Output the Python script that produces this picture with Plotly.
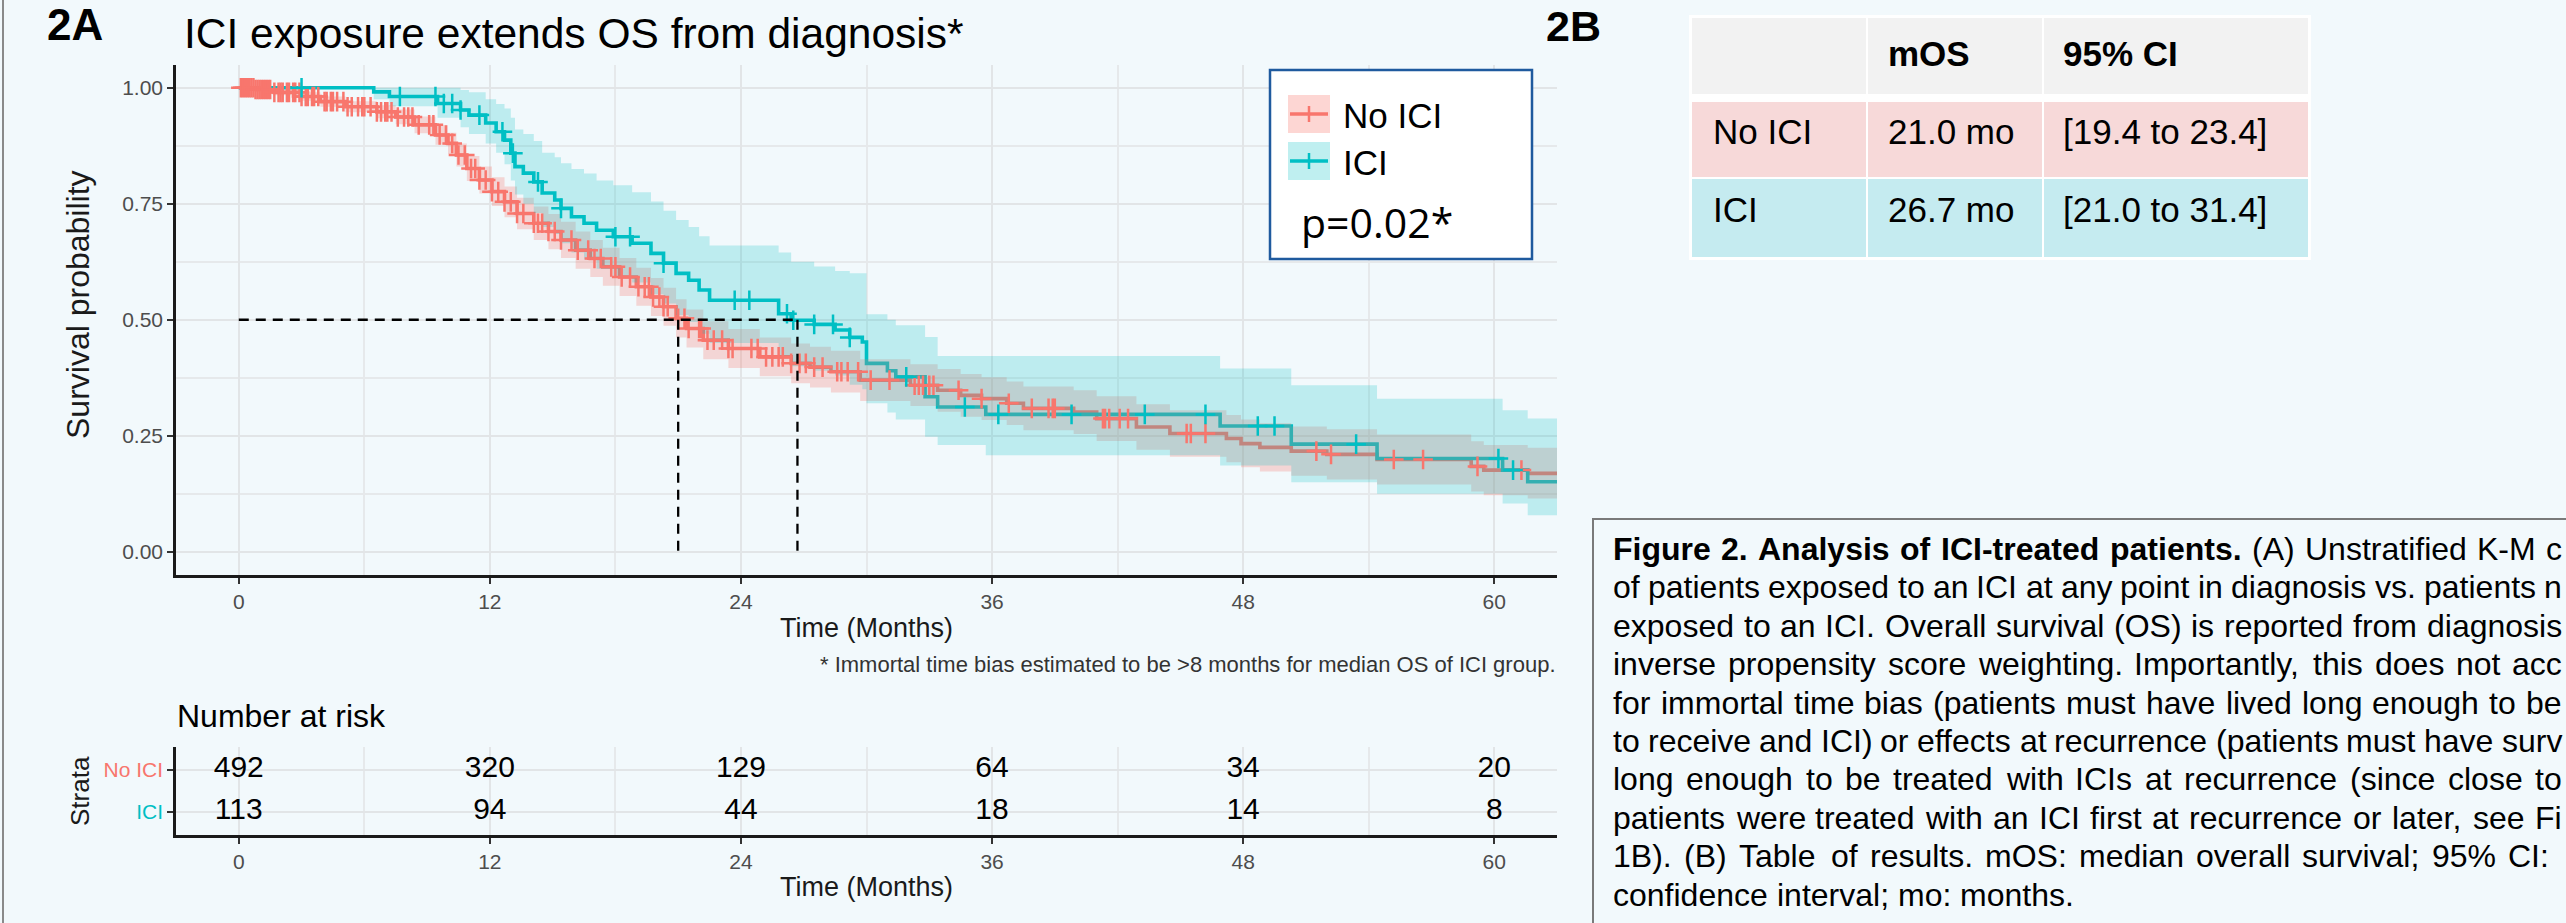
import plotly.graph_objects as go

W, H = 2566, 923

# ---------------- data ----------------
groups = ["No ICI", "ICI"]
colors = ["#F8766D", "#00BFC4"]

noici_t = [0, 0.8, 1.7, 3.0, 3.9, 5.1, 6.6, 7.5, 8.4, 9.4, 10.0, 10.4, 10.9, 11.5, 12.1, 12.7, 13.3,
           14.1, 14.8, 15.4, 16.1, 16.8, 17.4, 18.2, 19.0, 19.7, 20.3, 20.9, 21.4, 22.2, 23.4, 24.9,
           26.4, 27.3, 28.3, 29.7, 32.1, 33.4, 34.5, 35.5, 36.7, 37.5, 39.9, 41.0, 42.9, 44.5, 47.2,
           47.9, 48.8, 50.3, 52.0, 54.4, 58.9, 59.5, 61.6]
noici_s = [1.0, .996, .990, .981, .970, .959, .948, .937, .920, .898, .880, .855, .826, .801, .776, .754, .729,
           .708, .690, .672, .650, .632, .614, .592, .571, .549, .528, .503, .481, .456, .438, .420,
           .406, .398, .388, .370, .359, .348, .337, .330, .320, .309, .301, .287, .269, .255, .244,
           .233, .225, .217, .210, .199, .184, .176, .169]
noici_lo = [1.0, .991, .984, .972, .959, .947, .934, .921, .902, .877, .857, .830, .799, .772, .745, .721, .695,
            .672, .652, .633, .610, .592, .573, .551, .530, .508, .487, .462, .440, .415, .396, .378,
            .363, .354, .343, .325, .314, .302, .291, .284, .273, .262, .254, .239, .220, .205, .193,
            .182, .173, .164, .156, .145, .130, .122, .115]
noici_hi = [1.0, 1.0, .996, .990, .981, .971, .962, .953, .938, .919, .903, .880, .853, .830, .807, .787, .763,
            .744, .728, .711, .690, .672, .655, .633, .612, .590, .569, .544, .522, .497, .480, .462,
            .449, .442, .433, .415, .404, .394, .383, .376, .367, .356, .348, .335, .318, .305, .295,
            .285, .277, .270, .264, .253, .238, .230, .224]

ici_t = [0, 6.45, 7.2, 9.5, 10.6, 11.0, 11.8, 12.3, 12.7, 13.0, 13.2, 13.6, 14.1, 14.5, 15.1, 15.4, 15.9,
         16.5, 17.1, 17.9, 18.8, 19.7, 20.3, 20.9, 21.5, 22.0, 22.5, 25.8, 26.4, 27.5, 28.5, 29.2, 29.8,
         30.0, 31.0, 31.4, 32.8, 33.4, 35.7, 46.9, 50.3, 54.4, 60.4, 61.6]
ici_s = [1.0, .991, .981, .966, .952, .941, .924, .905, .887, .859, .830, .816, .797, .773, .758, .740, .722,
         .708, .693, .679, .665, .643, .622, .600, .585, .564, .542, .513, .499, .490, .478, .462, .452,
         .406, .390, .377, .334, .312, .296, .271, .232, .201, .176, .151]
ici_lo = [1.0, .975, .960, .935, .915, .900, .880, .860, .835, .800, .770, .750, .730, .700, .685, .665, .645,
          .630, .610, .595, .580, .555, .535, .510, .495, .470, .450, .420, .400, .390, .380, .360, .350,
          .320, .300, .285, .248, .230, .208, .186, .150, .125, .104, .079]
ici_hi = [1.0, 1.0, 1.0, 1.0, .995, .990, .975, .965, .955, .935, .910, .900, .885, .860, .850, .837, .825,
          .815, .800, .790, .775, .755, .735, .715, .700, .680, .660, .645, .625, .615, .605, .600, .600,
          .512, .500, .488, .463, .422, .422, .395, .359, .330, .305, .287]

noici_censor = [0.1, 0.2, 0.3, 0.4, 0.5, 0.6, 0.7, 0.8, 0.9, 1.0, 1.1, 1.2, 1.3, 1.4, 1.5, 1.7, 1.9, 2.0,
                2.1, 2.3, 2.4, 2.6, 2.7, 2.9, 3.0, 3.2, 3.3, 3.5, 3.6, 3.8, 4.1, 4.2, 4.4, 4.5, 4.7,
                5.0, 5.2, 5.4, 5.7, 5.9, 6.0, 6.3, 6.6, 6.8, 7.0, 7.1, 7.3, 7.6, 7.9, 8.1, 8.3, 8.6,
                9.1, 9.3, 9.6, 9.9, 10.2, 10.5, 10.8, 11.1, 11.3, 11.5, 11.8, 12.1, 12.4, 12.7, 13.0,
                13.3, 13.6, 14.1, 14.3, 14.5, 14.8, 15.1, 15.4, 15.9, 16.2, 16.7, 17.0, 17.3, 17.8,
                18.0, 18.3, 18.7, 19.1, 19.4, 19.6, 19.8, 20.1, 20.3, 20.5, 21.0, 21.3, 21.5, 22.0,
                22.1, 22.4, 22.7, 23.1, 23.4, 23.6, 24.5, 24.8, 25.2, 25.5, 25.8, 26.0, 26.4, 26.8,
                27.1, 27.5, 27.9, 28.6, 28.8, 29.1, 29.6, 30.2, 31.1, 32.3, 32.5, 32.7, 33.0, 33.2,
                34.4, 35.5, 36.8, 37.9, 38.7, 38.9, 39.0, 41.3, 41.4, 41.6, 42.1, 42.5, 45.3, 45.5,
                46.2, 51.5, 52.2, 55.2, 56.6, 59.2, 61.3]
ici_censor = [3.0, 7.7, 9.4, 9.8, 10.2, 10.6, 11.5, 12.6, 13.1, 14.3, 15.4, 18.0, 18.7, 20.3, 23.7, 24.4,
              26.2, 26.5, 27.5, 28.4, 29.2, 31.9, 34.7, 36.3, 39.8, 43.3, 46.2, 48.7, 49.5, 53.4, 60.2, 60.9]

median_os = [21.0, 26.7]

risk_times = [0, 12, 24, 36, 48, 60]
risk_noici = [492, 320, 129, 64, 34, 20]
risk_ici = [113, 94, 44, 18, 14, 8]

x_ticks = [0, 12, 24, 36, 48, 60]
x_minor = [6, 18, 30, 42, 54]
y_ticks = [0, 0.25, 0.5, 0.75, 1.0]
y_ticklabels = ["0.00", "0.25", "0.50", "0.75", "1.00"]
y_minor = [0.125, 0.375, 0.625, 0.875]

table_header = ["", "mOS", "95% CI"]
table_mos = ["21.0 mo", "26.7 mo"]
table_ci = ["[19.4 to 23.4]", "[21.0 to 31.4]"]
p_value = "p=0.02*"

# caption: visible part of each (justified) line; the first line starts in bold
caption_bold = "Figure 2. Analysis of ICI-treated patients."
caption_lines = [
    "Figure 2. Analysis of ICI-treated patients. (A) Unstratified K-M c",
    "of patients exposed to an ICI at any point in diagnosis vs. patients n",
    "exposed to an ICI. Overall survival (OS) is reported from diagnosis",
    "inverse propensity score weighting. Importantly, this does not acc",
    "for immortal time bias (patients must have lived long enough to be",
    "to receive and ICI) or effects at recurrence (patients must have surv",
    "long enough to be treated with ICIs at recurrence (since close to",
    "patients were treated with an ICI first at recurrence or later, see Fi",
    "1B). (B) Table of results. mOS: median overall survival; 95% CI:",
    "confidence interval; mo: months.",
]

# ---------------- styling ----------------
BG = "#f2f9fc"
FONT = "Liberation Sans, Arial, sans-serif"
T_END = 63
band_fill = ["rgba(248,118,109,0.27)", "rgba(0,191,196,0.22)"]
legend_fill = ["rgba(248,118,109,0.30)", "rgba(0,191,196,0.25)"]

# Arial / Liberation Sans advance widths (1/1000 em)
_REG = {' ': 278, '(': 333, ')': 333, ',': 278, '-': 333, '.': 278, ':': 278, ';': 278, '%': 889,
        '[': 278, ']': 278, '*': 389, '>': 584,
        'A': 667, 'B': 667, 'C': 722, 'D': 722, 'E': 667, 'F': 611, 'G': 778, 'H': 722, 'I': 278,
        'J': 500, 'K': 667, 'L': 556, 'M': 833, 'N': 722, 'O': 778, 'P': 667, 'Q': 778, 'R': 722,
        'S': 667, 'T': 611, 'U': 722, 'V': 667, 'W': 944, 'X': 667, 'Y': 667, 'Z': 611,
        'a': 556, 'b': 556, 'c': 500, 'd': 556, 'e': 556, 'f': 278, 'g': 556, 'h': 556, 'i': 222,
        'j': 222, 'k': 500, 'l': 222, 'm': 833, 'n': 556, 'o': 556, 'p': 556, 'q': 556, 'r': 333,
        's': 500, 't': 278, 'u': 556, 'v': 500, 'w': 722, 'x': 500, 'y': 500, 'z': 500}
for _d in "0123456789":
    _REG[_d] = 556
_BOLD = dict(_REG)
_BOLD.update({'A': 722, 'a': 556, 'd': 611, 'e': 556, 'f': 333, 'g': 611, 'i': 278, 'l': 278, 'n': 611,
              'o': 611, 'p': 611, 'r': 389, 's': 556, 't': 333, 'u': 611, 'y': 556})


def text_width(s, size, bold=False):
    tab = _BOLD if bold else _REG
    return sum(tab.get(ch, 556) for ch in s) * size / 1000.0


def X(px):
    return px / W


def Y(py):
    return 1 - py / H


def step_xy(t, s):
    xs, ys = [], []
    for i in range(len(t)):
        nxt = t[i + 1] if i + 1 < len(t) else T_END
        xs += [t[i], nxt]
        ys += [s[i], s[i]]
    return xs, ys


def surv_at(t, s, c):
    v = s[0]
    for ti, si in zip(t, s):
        if ti <= c:
            v = si
    return v


series = [
    (noici_t, noici_s, noici_lo, noici_hi, noici_censor),
    (ici_t, ici_s, ici_lo, ici_hi, ici_censor),
]

fig = go.Figure()

# lines first
for (t, s, lo, hi, cens), col, name in zip(series, colors, groups):
    fig.add_trace(go.Scatter(x=t + [T_END], y=s + [s[-1]], mode="lines", line_shape="hv",
                             line=dict(color=col, width=3.6), name=name, showlegend=False,
                             xaxis="x", yaxis="y", hoverinfo="skip"))
# confidence bands over the lines
for (t, s, lo, hi, cens), fc in zip(series, band_fill):
    ux, uy = step_xy(t, hi)
    lx, ly = step_xy(t, lo)
    fig.add_trace(go.Scatter(x=ux + lx[::-1], y=uy + ly[::-1], mode="lines", fill="toself",
                             fillcolor=fc, line=dict(width=0), showlegend=False,
                             xaxis="x", yaxis="y", hoverinfo="skip"))
# censor marks
for (t, s, lo, hi, cens), col in zip(series, colors):
    fig.add_trace(go.Scatter(x=cens, y=[surv_at(t, s, c) for c in cens], mode="markers",
                             marker=dict(symbol="cross-thin", size=14, line=dict(color=col, width=2.5)),
                             showlegend=False, xaxis="x", yaxis="y", hoverinfo="skip"))

# median lines
fig.add_trace(go.Scatter(x=[0, max(median_os)], y=[0.5, 0.5], mode="lines",
                         line=dict(color="black", width=2.3, dash="10px,7px"),
                         showlegend=False, xaxis="x", yaxis="y", hoverinfo="skip"))
for m in median_os:
    fig.add_trace(go.Scatter(x=[m, m], y=[0.5, 0], mode="lines",
                             line=dict(color="black", width=2.3, dash="10px,7px"),
                             showlegend=False, xaxis="x", yaxis="y", hoverinfo="skip"))

# risk table numbers
for vals, row in zip([risk_noici, risk_ici], [2, 1]):
    fig.add_trace(go.Scatter(x=risk_times, y=[row] * len(risk_times), mode="text",
                             text=[str(v) for v in vals],
                             textfont=dict(family=FONT, size=30, color="black"),
                             showlegend=False, xaxis="x2", yaxis="y2", hoverinfo="skip"))

axis_common = dict(showline=True, linecolor="#1a1a1a", linewidth=2.5, zeroline=False,
                   ticks="outside", ticklen=6, tickwidth=2, tickcolor="#333333",
                   showgrid=True, gridcolor="#e2e5e7", gridwidth=2)
tick_font = dict(family=FONT, size=21, color="#4d4d4d")
minor_x = dict(tickvals=x_minor, showgrid=True, gridcolor="#e6e9eb", gridwidth=1.5, ticks="")

fig.update_layout(
    width=W, height=H, autosize=False,
    margin=dict(l=0, r=0, t=0, b=0),
    paper_bgcolor=BG, plot_bgcolor=BG,
    font=dict(family=FONT, color="black"),
    showlegend=False,
    xaxis=dict(domain=[X(176), X(1557)], range=[-3, T_END], tickvals=x_ticks, anchor="y",
               minor=minor_x, tickfont=tick_font, **axis_common),
    yaxis=dict(domain=[Y(575), Y(64.5)], range=[-0.05, 1.05], tickvals=y_ticks, ticktext=y_ticklabels,
               anchor="x", tickfont=tick_font,
               minor=dict(tickvals=y_minor, showgrid=True, gridcolor="#e6e9eb", gridwidth=1.5, ticks=""),
               **axis_common),
    xaxis2=dict(domain=[X(176), X(1557)], range=[-3, T_END], tickvals=x_ticks, anchor="y2",
                minor=minor_x, tickfont=tick_font, **axis_common),
    yaxis2=dict(domain=[Y(835), Y(746.7)], range=[0.45, 2.55], tickvals=[2, 1],
                ticktext=[f'<span style="color:{colors[0]}">{groups[0]}</span>',
                          f'<span style="color:{colors[1]}">{groups[1]}</span>'],
                anchor="x2", tickfont=dict(family=FONT, size=21), **axis_common),
)

ann = []


def text(x, y, s, size, xanchor="left", yanchor="middle", color="black", family=FONT, angle=0):
    ann.append(dict(x=X(x), y=Y(y), xref="paper", yref="paper", text=s, showarrow=False,
                    xanchor=xanchor, yanchor=yanchor, textangle=angle, borderpad=0,
                    font=dict(size=size, color=color, family=family)))


text(46, 25, "<b>2A</b>", 44)
text(183, 33, "ICI exposure extends OS from diagnosis*", 42.5)
text(1545, 26, "<b>2B</b>", 43)
text(78, 305, "Survival probability", 32, xanchor="center", color="#1a1a1a", angle=-90)
text(866, 628, "Time (Months)", 27, xanchor="center", color="#1a1a1a")
text(1557, 664, "* Immortal time bias estimated to be >8 months for median OS of ICI group.", 22,
     xanchor="right", color="#333333")
text(176, 716, "Number at risk", 32)
text(80, 791, "Strata", 26, xanchor="center", color="#1a1a1a", angle=-90)
text(866, 887, "Time (Months)", 27, xanchor="center", color="#1a1a1a")

# legend box contents
text(1342, 115, groups[0], 35)
text(1342, 162, groups[1], 35)
text(1300, 222, p_value, 41, family="Open Sans, sans-serif")

# table text
col_x = [1712, 1887, 2062]
row_y = [53, 131, 210]
for cx, h in zip(col_x, table_header):
    if h:
        text(cx, row_y[0], f"<b>{h}</b>", 35)
for i in range(2):
    text(col_x[0], row_y[i + 1], groups[i], 35)
    text(col_x[1], row_y[i + 1], table_mos[i], 35)
    text(col_x[2], row_y[i + 1], table_ci[i], 35)

# caption, justified word by word
CAP_SIZE = 32
CAP_LEFT = 1612
n_bold_words = len(caption_bold.split())
for i, line in enumerate(caption_lines):
    words = line.split()
    bolds = [(i == 0 and k < n_bold_words) for k in range(len(words))]
    widths = [text_width(w, CAP_SIZE, b) for w, b in zip(words, bolds)]
    last = i == len(caption_lines) - 1
    right = 2548 if i == 8 else 2561
    if last or len(words) < 2:
        gap = text_width(" ", CAP_SIZE)
    else:
        gap = (right - CAP_LEFT - sum(widths)) / (len(words) - 1)
    xcur = CAP_LEFT
    for w, b, wd in zip(words, bolds, widths):
        text(xcur, 549 + 38.4 * i, f"<b>{w}</b>" if b else w, CAP_SIZE)
        xcur += wd + gap

fig.update_layout(annotations=ann)

shapes = []


def rect(x0, y0, x1, y1, fill):
    shapes.append(dict(type="rect", xref="paper", yref="paper", x0=X(x0), x1=X(x1), y0=Y(y1), y1=Y(y0),
                       fillcolor=fill, line=dict(width=0), layer="below"))


def seg(x0, y0, x1, y1, color, width):
    shapes.append(dict(type="line", xref="paper", yref="paper", x0=X(x0), x1=X(x1), y0=Y(y0), y1=Y(y1),
                       line=dict(color=color, width=width)))


# panel border (left) and caption box
seg(3, 0, 3, H, "#8a8a8a", 2)
shapes.append(dict(type="rect", xref="paper", yref="paper", x0=X(1593), x1=X(2620), y0=Y(960), y1=Y(519),
                   fillcolor="rgba(0,0,0,0)", line=dict(color="#7a7a7a", width=2)))

# legend box
shapes.append(dict(type="rect", xref="paper", yref="paper", x0=X(1270), x1=X(1532), y0=Y(259), y1=Y(70),
                   fillcolor="white", line=dict(color="#1f5a9e", width=2.5)))
for i, (col, fc) in enumerate(zip(colors, legend_fill)):
    cy = 114 + 47 * i
    shapes.append(dict(type="rect", xref="paper", yref="paper", x0=X(1288), x1=X(1330), y0=Y(cy + 19),
                       y1=Y(cy - 19), fillcolor=fc, line=dict(width=0)))
    seg(1290, cy, 1328, cy, col, 3.5)
    seg(1309, cy - 8, 1309, cy + 8, col, 2.5)

# table cells
rect(1689, 15, 2311, 260, "white")
hdr_fill, row_fill = "#f2f2f2", ["#f7d9d9", "#c5ebf0"]
cols = [(1692, 1866), (1868, 2042), (2044, 2308)]
rows = [(18, 94, hdr_fill), (102, 177, row_fill[0]), (179, 257, row_fill[1])]
for (y0, y1, fc) in rows:
    for (x0, x1) in cols:
        rect(x0, y0, x1, y1, fc)

fig.update_layout(shapes=shapes)

fig.write_html("out.html", config={"displayModeBar": False},
               post_script="document.body.style.margin='0';document.body.style.overflow='hidden';")
